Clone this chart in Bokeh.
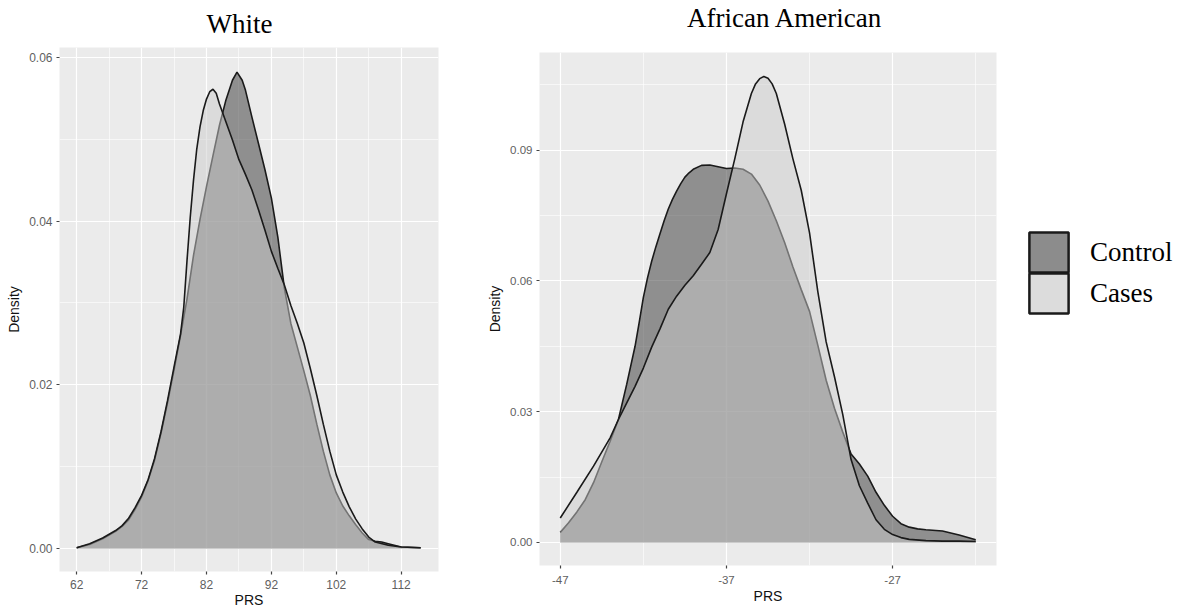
from bokeh.plotting import figure
from bokeh.layouts import row, column
from bokeh.models import (FixedTicker, PrintfTickFormatter, Range1d, Legend,
                          LegendItem, ColumnDataSource)
from bokeh.embed import file_html
from bokeh.resources import INLINE

# ---------------- data ----------------
white_control_prs = [62, 64, 66, 68, 69, 70, 71, 72, 73, 74, 75, 76, 77, 78, 79, 80, 81, 82,
                     83, 84, 85, 86, 86.7, 87.5, 88, 89, 90, 91, 92, 93, 94, 95, 96, 97, 98,
                     99, 100, 101, 102, 103, 104, 105, 106, 107, 108, 109, 110, 112, 115]
white_control_density = [0.0001, 0.0005, 0.0012, 0.0021, 0.0027, 0.0035, 0.0048, 0.0063,
                         0.0083, 0.0108, 0.0141, 0.0178, 0.0218, 0.0260, 0.0305, 0.0358,
                         0.0402, 0.0442, 0.0480, 0.0517, 0.0548, 0.0572, 0.0582, 0.0572,
                         0.0560, 0.0527, 0.0495, 0.0463, 0.0428, 0.0380, 0.0318, 0.0275,
                         0.0246, 0.0217, 0.0187, 0.0152, 0.0119, 0.0090, 0.0068, 0.0052,
                         0.0040, 0.0029, 0.0019, 0.0011, 0.0009, 0.0008, 0.0006, 0.0002,
                         0.0001]

white_cases_prs = [62, 64, 66, 68, 69, 70, 71, 72, 73, 74, 75, 76, 77, 78, 78.5, 79, 79.5,
                   80, 80.5, 81, 81.5, 82, 82.5, 83, 83.5, 84, 85, 86, 87, 88, 89, 90, 91,
                   92, 93, 94, 95, 96, 97, 98, 99, 100, 101, 102, 103, 104, 105, 106, 107,
                   108, 110, 112, 115]
white_cases_density = [0.0001, 0.0006, 0.0013, 0.0022, 0.0028, 0.0037, 0.0050, 0.0065,
                       0.0084, 0.0110, 0.0143, 0.0181, 0.0222, 0.0262, 0.0295, 0.0352,
                       0.0405, 0.0450, 0.0488, 0.0515, 0.0535, 0.0549, 0.0558, 0.0561,
                       0.0556, 0.0543, 0.0521, 0.0499, 0.0475, 0.0457, 0.0438, 0.0414,
                       0.0389, 0.0363, 0.0342, 0.0322, 0.0297, 0.0275, 0.0251, 0.0220,
                       0.0187, 0.0152, 0.0119, 0.0090, 0.0069, 0.0051, 0.0036, 0.0024,
                       0.0014, 0.0008, 0.0004, 0.0002, 0.0001]

aa_control_prs = [-47, -46.5, -46, -45.5, -45, -44.5, -44, -43.5, -43, -42.5, -42.25, -42,
                  -41.75, -41.5, -41.25, -41, -40.75, -40.5, -40.25, -40, -39.75, -39.5,
                  -39.25, -39, -38.5, -38, -37.5, -37, -36.5, -36, -35.5, -35, -34.5, -34,
                  -33.5, -33, -32.5, -32, -31.5, -31, -30.5, -30, -29.5, -29, -28.5, -28,
                  -27.5, -27, -26.5, -26, -25.5, -25, -24, -23, -22]
aa_control_density = [0.0023, 0.0045, 0.0070, 0.0098, 0.0137, 0.0185, 0.0232, 0.0282,
                      0.0363, 0.0450, 0.0505, 0.0562, 0.0607, 0.0645, 0.0678, 0.0708,
                      0.0738, 0.0765, 0.0787, 0.0806, 0.0823, 0.0838, 0.0848, 0.0856,
                      0.0865, 0.0866, 0.0862, 0.0858, 0.0859, 0.0856, 0.0845, 0.0820,
                      0.0783, 0.0738, 0.0688, 0.0632, 0.0580, 0.0530, 0.0452, 0.0372,
                      0.0308, 0.0253, 0.0203, 0.0180, 0.0152, 0.0115, 0.0085, 0.0060,
                      0.0043, 0.0035, 0.0031, 0.0029, 0.0026, 0.0017, 0.0006]

aa_cases_prs = [-47, -46, -45, -44, -43.5, -43, -42.5, -42, -41.5, -41, -40.5, -40, -39.5,
                -39, -38.5, -38, -37.5, -37, -36.5, -36, -35.5, -35.25, -35, -34.75, -34.5,
                -34.25, -34, -33.5, -33, -32.5, -32, -31.5, -31, -30.5, -30, -29.5, -29,
                -28.5, -28, -27.5, -27, -26.5, -26, -25, -24, -23, -22]
aa_cases_density = [0.0056, 0.0115, 0.0175, 0.0240, 0.0282, 0.0320, 0.0358, 0.0400, 0.0448,
                    0.0490, 0.0535, 0.0565, 0.0590, 0.0612, 0.0638, 0.0665, 0.0718, 0.0800,
                    0.0880, 0.0965, 0.1030, 0.1052, 0.1064, 0.1069, 0.1065, 0.1052, 0.1030,
                    0.0960, 0.0880, 0.0808, 0.0710, 0.0575, 0.0460, 0.0380, 0.0293, 0.0190,
                    0.0130, 0.0090, 0.0052, 0.0030, 0.0018, 0.0011, 0.0007, 0.0004, 0.0003,
                    0.0003, 0.0002]

groups = ["Control", "Cases"]
panel_titles = ["White", "African American"]
white_x_ticks = [62, 72, 82, 92, 102, 112]
white_x_minor = [67, 77, 87, 97, 107]
white_y_ticks = [0.00, 0.02, 0.04, 0.06]
white_y_minor = [0.01, 0.03, 0.05]
aa_x_ticks = [-47, -37, -27]
aa_x_minor = [-42, -32, -22]
aa_y_ticks = [0.00, 0.03, 0.06, 0.09]
aa_y_minor = [0.015, 0.045, 0.075, 0.105]

# ---------------- styling ----------------
PANEL_BG = "#ebebeb"
CONTROL_FILL = "#333333"
CASES_FILL = "#cccccc"
FILL_ALPHA = 0.5
OUTLINE = "#1a1a1a"
SANS = "Liberation Sans"
SERIF = "Liberation Serif"
NAN = float("nan")


def title_strip(text, width, height, top, left, right, offset):
    """A thin, empty plot whose only job is to carry the panel title."""
    t = figure(width=width, height=height, toolbar_location=None, output_backend="svg",
               x_axis_type=None, y_axis_type=None,
               min_border_left=left, min_border_right=right,
               min_border_top=top, min_border_bottom=0,
               x_range=Range1d(0, 1), y_range=Range1d(0, 1))
    t.outline_line_color = None
    t.grid.grid_line_color = None
    t.background_fill_color = "white"
    t.title.text = text
    t.title.align = "left"
    t.title.offset = offset
    t.title.standoff = 0
    t.title.text_font = SERIF
    t.title.text_font_size = "27px"
    t.title.text_font_style = "normal"
    t.title.text_color = "black"
    return t


def make_panel(width, height, borders, xr, yr, xt, xm, yt, ym, tick_size,
               x_standoff, x_lab_standoff, ctrl_x, ctrl_y, case_x, case_y):
    left, right, top, bottom = borders
    p = figure(width=width, height=height, toolbar_location=None, output_backend="svg",
               x_range=Range1d(*xr), y_range=Range1d(*yr),
               min_border_left=left, min_border_right=right,
               min_border_top=top, min_border_bottom=bottom)
    p.background_fill_color = PANEL_BG
    p.border_fill_color = "white"
    p.outline_line_color = None

    p.xaxis.ticker = FixedTicker(ticks=xt, minor_ticks=xm)
    p.yaxis.ticker = FixedTicker(ticks=yt, minor_ticks=ym)
    p.xaxis.formatter = PrintfTickFormatter(format="%d")
    p.yaxis.formatter = PrintfTickFormatter(format="%.2f")
    for ax in (p.xaxis, p.yaxis):
        ax.axis_line_color = None
        ax.major_tick_line_color = "#444444"
        ax.major_tick_line_width = 1.2
        ax.major_tick_out = 3
        ax.major_tick_in = 0
        ax.minor_tick_line_color = None
        ax.major_label_text_font = SANS
        ax.major_label_text_font_size = tick_size
        ax.major_label_text_color = "#5f5f5f"
        ax.major_label_standoff = 3
        ax.axis_label_text_font = SANS
        ax.axis_label_text_font_size = "14px"
        ax.axis_label_text_font_style = "normal"
        ax.axis_label_text_color = "#111111"
        ax.axis_label_standoff = 4
    p.xaxis.major_label_standoff = x_standoff
    p.xaxis.axis_label_standoff = x_lab_standoff
    p.xaxis.axis_label = "PRS"
    p.yaxis.axis_label = "Density"

    for g in p.grid:
        g.grid_line_color = "white"
        g.grid_line_width = 1.2
        g.minor_grid_line_color = "white"
        g.minor_grid_line_width = 0.6

    src_c = ColumnDataSource(dict(x=ctrl_x, y=ctrl_y))
    src_k = ColumnDataSource(dict(x=case_x, y=case_y))
    p.varea(x="x", y1=0, y2="y", source=src_c, fill_color=CONTROL_FILL, fill_alpha=FILL_ALPHA)
    p.line(x="x", y="y", source=src_c, line_color=OUTLINE, line_width=1.6)
    p.varea(x="x", y1=0, y2="y", source=src_k, fill_color=CASES_FILL, fill_alpha=FILL_ALPHA)
    p.line(x="x", y="y", source=src_k, line_color=OUTLINE, line_width=1.6)
    return p


# left panel: frame x 59..438, y 47..572 ; right panel: frame x 539..996, y 52..565
t1 = title_strip(panel_titles[0], 450, 42, 38, 59, 12, 147)
p1 = make_panel(450, 568, (59, 12, 5, 38), (59.35, 117.75), (-0.0028, 0.0612),
                white_x_ticks, white_x_minor, white_y_ticks, white_y_minor,
                "12px", 4, 0,
                white_control_prs, white_control_density,
                white_cases_prs, white_cases_density)

t2 = title_strip(panel_titles[1], 550, 36, 32, 89, 4, 147.5)
p2 = make_panel(550, 574, (89, 4, 16, 45), (-48.25, -20.75), (-0.0053, 0.1124),
                aa_x_ticks, aa_x_minor, aa_y_ticks, aa_y_minor,
                "11.5px", 6, 1,
                aa_control_prs, aa_control_density,
                aa_cases_prs, aa_cases_density)

# ---------------- legend panel ----------------
p3 = figure(width=186, height=610, toolbar_location=None, output_backend="svg",
            x_axis_type=None, y_axis_type=None, min_border=0,
            x_range=Range1d(0, 1), y_range=Range1d(0, 1))
p3.outline_line_color = None
p3.grid.grid_line_color = None
p3.background_fill_color = "white"
swatch_fill = {"Control": "#8c8c8c", "Cases": "#dcdcdc"}
legend_bottom = {"Control": 333, "Cases": 292}
for g in groups:
    r = p3.quad(left=[NAN], right=[NAN], top=[NAN], bottom=[NAN], fill_color=swatch_fill[g],
                line_color=OUTLINE, line_width=2.5)
    lg = Legend(items=[LegendItem(label=g, renderers=[r])],
                location=(24, legend_bottom[g]), glyph_width=49, glyph_height=50,
                padding=0, margin=0, border_line_color=None, background_fill_alpha=0,
                label_text_font=SERIF, label_text_font_size="27px",
                label_standoff=17, label_text_color="black")
    p3.add_layout(lg)

layout = row(column(t1, p1), column(t2, p2), p3, spacing=0)
open("out.html", "w").write(file_html(layout, INLINE))
